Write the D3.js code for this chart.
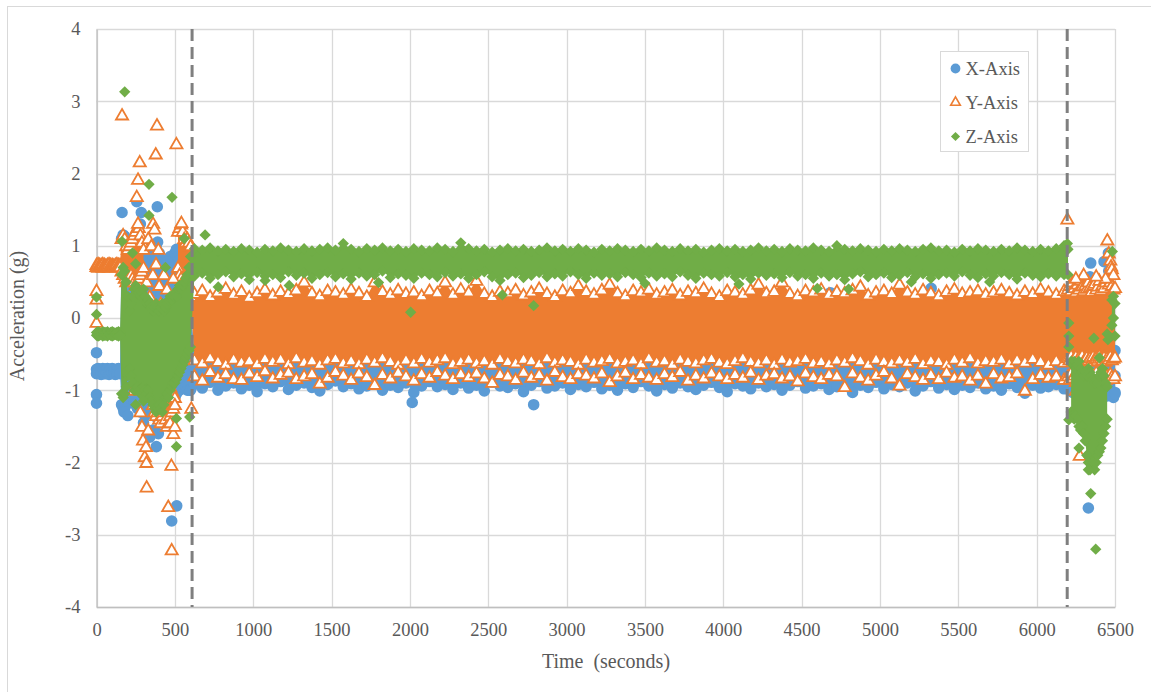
<!DOCTYPE html>
<html>
<head>
<meta charset="utf-8">
<script src="https://cdn.jsdelivr.net/npm/d3@7"></script>
<style>
  body { margin: 0; background: #fff; }
  svg { display: block; }
  text { font-family: "Liberation Serif", "Times New Roman", serif; fill: #595959; }
</style>
</head>
<body>
<svg id="chart" width="1151" height="692"></svg>
<script>
// ---- Axis ticks ----
const xTicks = [0, 500, 1000, 1500, 2000, 2500, 3000, 3500, 4000, 4500, 5000, 5500, 6000, 6500];
const yTicks = [-4, -3, -2, -1, 0, 1, 2, 3, 4];
const seriesNames = ["X-Axis", "Y-Axis", "Z-Axis"];
// Start / end of the steady recording phase (seconds)
const phaseMarks = [610, 6195];

// ---- Sample grids (seconds) ----
const leadTimes = d3.range(0, 610, 10);     // 0 .. 600
const bandTimes = d3.range(625, 6200, 50);  // 625 .. 6175
const tailTimes = d3.range(6200, 6510, 10); // 6200 .. 6500

// ---- X-Axis acceleration (g): upper / lower sample envelope ----
const xLeadHi = [-0.71,-0.70,-0.71,-0.72,-0.70,-0.71,-0.71,-0.70,-0.72,-0.71,-0.70,-0.71,-0.72,-0.71,-0.70,-0.71,
  1.1,1.15,1.1,1.0,0.95,0.7,0.6,0.7,0.9,1.0,1.2,1.1,1.3,1.0,0.9,0.85,0.9,0.8,0.9,1.0,0.85,0.9,1.0,1.05,0.9,
  0.7,0.8,0.75,0.6,0.7,0.8,0.85,0.7,0.8,0.9,0.95,0.85,0.8,0.7,0.6,0.5,0.45,0.4,0.3,0.2];
const xLeadLo = [-0.77,-0.76,-0.77,-0.78,-0.76,-0.77,-0.77,-0.76,-0.78,-0.77,-0.76,-0.77,-0.78,-0.77,-0.76,-0.77,
  -1.2,-1.25,-1.25,-1.2,-1.1,-0.9,-1.0,-1.1,-1.15,-1.2,-1.25,-1.2,-1.3,-1.25,-1.3,-1.35,-1.3,-1.25,-1.3,-1.2,
  -1.25,-1.3,-1.35,-1.4,-1.3,-1.25,-1.2,-1.25,-1.2,-1.3,-1.25,-1.2,-1.15,-1.1,-1.1,-1.05,-1.0,-1.0,-0.95,-0.95,
  -0.9,-0.95,-1.0,-1.0,-1.0];
const xBandHi = [-0.48,-0.45,-0.5,-0.46,-0.44,-0.49,-0.47,-0.45,-0.5,-0.46,
  -0.43,-0.47,-0.49,-0.45,-0.48,-0.44,-0.46,-0.5,-0.47,-0.45,
  -0.49,-0.46,-0.44,-0.48,-0.45,-0.5,-0.47,-0.43,-0.46,-0.49,
  -0.45,-0.48,-0.46,-0.44,-0.5,-0.47,-0.45,-0.49,-0.46,-0.43,
  -0.47,-0.5,-0.45,-0.48,-0.44,-0.46,-0.49,-0.47,-0.45,-0.5,
  -0.46,-0.44,-0.48,-0.45,-0.49,-0.47,-0.43,-0.46,-0.5,-0.48,
  -0.45,-0.47,-0.44,-0.49,-0.46,-0.48,-0.5,-0.45,-0.47,-0.44,
  -0.48,-0.46,-0.5,-0.45,-0.47,-0.43,-0.49,-0.46,-0.48,-0.45,
  -0.47,-0.49,-0.44,-0.46,-0.5,-0.48,-0.45,-0.47,-0.43,-0.49,
  -0.46,-0.48,-0.45,-0.5,-0.47,-0.44,-0.49,-0.46,-0.48,-0.45,
  -0.47,-0.43,-0.49,-0.46,-0.48,-0.45,-0.5,-0.47,-0.44,-0.46,
  -0.48,-0.45];
const xBandLo = [-0.92,-0.97,-0.89,-1.0,-0.94,-0.9,-0.98,-0.93,-1.02,-0.91,
  -0.95,-0.88,-0.99,-0.93,-0.9,-0.96,-1.01,-0.92,-0.87,-0.95,
  -0.91,-0.98,-0.94,-0.89,-1.0,-0.93,-0.96,-0.9,-1.03,-0.94,
  -0.88,-0.95,-0.92,-0.99,-0.9,-0.97,-0.93,-1.01,-0.89,-0.94,
  -0.96,-0.91,-1.02,-0.93,-0.88,-0.97,-0.94,-0.9,-0.99,-0.92,
  -0.95,-0.89,-0.98,-0.93,-1.0,-0.91,-0.96,-0.88,-0.94,-1.01,
  -0.92,-0.97,-0.9,-0.95,-0.99,-0.93,-0.89,-0.96,-1.02,-0.91,
  -0.94,-0.98,-0.9,-0.95,-0.92,-1.0,-0.93,-0.88,-0.97,-0.94,
  -0.91,-0.99,-0.95,-0.9,-1.03,-0.93,-0.96,-0.89,-0.98,-0.92,
  -0.95,-0.9,-1.01,-0.94,-0.88,-0.97,-0.92,-0.99,-0.93,-0.96,
  -0.9,-0.98,-0.94,-1.0,-0.91,-0.96,-1.04,-0.93,-0.97,-0.95,
  -0.92,-0.98];
const xTailHi = [-0.45,-0.48,-0.44,-0.47,-0.45,-0.5,-0.46,-0.44,-0.48,-0.45,-0.47,-0.43,-0.46,-0.49,-0.45,-0.44,
  -0.47,-0.45,-0.48,-0.46,-0.44,-0.47,-0.45,-0.43,-0.46,-0.48,-0.44,-0.45,-0.47,-0.46,-0.45];
const xTailLo = [-0.95,-1.0,-0.97,-1.03,-0.98,-1.05,-1.0,-0.96,-1.02,-1.06,-0.99,-1.04,-1.0,-0.97,-1.05,-1.02,
  -0.98,-1.03,-1.07,-1.0,-0.96,-1.04,-1.01,-0.98,-1.05,-1.08,-1.02,-0.99,-1.06,-1.1,-1.03];
const xScatter = [[0,-0.48],[0,-1.06],[0,-1.18],[163,1.46],[180,1.13],[257,1.61],[286,1.46],[388,1.54],
  [175,-1.3],[200,-1.35],[300,-1.45],[340,-1.65],[360,-1.55],[382,-1.78],[395,-1.6],[420,-1.45],[450,-1.4],
  [480,-2.81],[512,-2.6],[565,0.35],[2015,-1.17],[2790,-1.2],[4684,0.35],[5327,0.41],
  [6330,-2.63],[6345,0.76],[6430,0.78],[6458,0.9],[6340,0.57],[6320,0.55],[6460,0.65],[6490,-0.54],
  [6500,-0.8],[6500,-1.05]];

// ---- Y-Axis acceleration (g) ----
const yLeadHi = [0.74,0.75,0.74,0.74,0.75,0.74,0.73,0.74,0.75,0.74,0.74,0.73,0.74,0.75,0.74,0.74,
  1.1,1.15,1.1,1.0,0.95,1.0,1.05,1.1,1.15,1.2,1.25,1.25,1.15,1.05,0.95,
  null,null,null,null,null,
  -0.9,-0.85,-0.9,-0.95,-0.9,-0.85,-0.9,-0.95,-1.0,-0.95,-0.9,-0.95,-1.0,-1.05,-1.1,
  null,
  1.2,1.25,1.3,1.2,1.1,1.05,1.1,1.05,1.0];
const yLeadLo = [0.71,0.70,0.71,0.71,0.70,0.71,0.72,0.71,0.70,0.71,0.71,0.72,0.71,0.70,0.71,0.71,
  0.65,0.6,0.55,0.5,0.55,0.6,0.6,0.55,0.5,0.45,0.5,0.55,0.6,0.65,0.7,
  null,null,null,null,null,
  -1.2,-1.3,-1.35,-1.3,-1.4,-1.45,-1.35,-1.3,-1.4,-1.5,-1.45,-1.35,-1.3,-1.25,-1.2,
  null,
  0.7,0.6,0.55,0.5,0.5,0.55,0.5,0.4,0.3];
const yBandHi = [0.34,0.38,0.3,0.36,0.41,0.33,0.37,0.29,0.35,0.4,
  0.32,0.37,0.34,0.39,0.5,0.35,0.31,0.38,0.36,0.33,
  0.4,0.35,0.3,0.5,0.37,0.33,0.39,0.34,0.36,0.31,
  0.38,0.35,0.5,0.33,0.4,0.36,0.52,0.34,0.3,0.37,
  0.35,0.39,0.32,0.36,0.41,0.34,0.3,0.38,0.35,0.45,
  0.37,0.33,0.39,0.47,0.35,0.31,0.38,0.36,0.4,0.33,
  0.36,0.39,0.32,0.37,0.35,0.41,0.34,0.3,0.38,0.36,
  0.33,0.39,0.47,0.35,0.37,0.5,0.34,0.31,0.38,0.36,
  0.4,0.33,0.37,0.35,0.39,0.44,0.32,0.36,0.38,0.34,
  0.47,0.36,0.33,0.39,0.35,0.31,0.37,0.4,0.34,0.36,
  0.38,0.33,0.36,0.39,0.35,0.32,0.37,0.34,0.4,0.36,
  0.33,0.38];
const yBandLo = [-0.58,-0.62,-0.55,-0.6,-0.64,-0.57,-0.61,-0.59,-0.63,-0.56,
  -0.6,-0.57,-0.63,-0.55,-0.61,-0.59,-0.64,-0.58,-0.56,-0.62,
  -0.59,-0.63,-0.57,-0.61,-0.55,-0.6,-0.64,-0.58,-0.62,-0.56,
  -0.61,-0.58,-0.55,-0.63,-0.6,-0.57,-0.62,-0.59,-0.64,-0.56,
  -0.6,-0.62,-0.57,-0.59,-0.63,-0.55,-0.61,-0.58,-0.6,-0.64,
  -0.57,-0.61,-0.59,-0.56,-0.62,-0.6,-0.58,-0.63,-0.55,-0.61,
  -0.59,-0.64,-0.57,-0.6,-0.62,-0.58,-0.56,-0.61,-0.63,-0.59,
  -0.55,-0.6,-0.62,-0.58,-0.64,-0.57,-0.61,-0.59,-0.56,-0.62,
  -0.6,-0.63,-0.58,-0.61,-0.55,-0.59,-0.64,-0.57,-0.6,-0.62,
  -0.58,-0.61,-0.56,-0.63,-0.59,-0.6,-0.64,-0.57,-0.61,-0.55,
  -0.62,-0.59,-0.6,-0.57,-0.63,-0.58,-0.61,-0.56,-0.6,-0.64,
  -0.59,-0.61];
// lowest Y samples along the steady band (open triangles over the X band)
const yBandEdge = [-0.8,-0.86,-0.74,-0.82,-0.77,-0.84,-0.85,-0.76,-0.81,-0.73,
  -0.83,-0.78,-0.75,-0.84,-0.8,-0.77,-0.9,-0.82,-0.74,-0.79,
  -0.85,-0.76,-0.81,-0.92,-0.78,-0.83,-0.75,-0.8,-0.86,-0.77,
  -0.82,-0.74,-0.79,-0.84,-0.77,-0.81,-0.76,-0.83,-0.89,-0.78,
  -0.8,-0.85,-0.75,-0.82,-0.78,-0.86,-0.74,-0.81,-0.84,-0.77,
  -0.79,-0.83,-0.76,-0.88,-0.8,-0.75,-0.84,-0.78,-0.82,-0.85,
  -0.77,-0.81,-0.74,-0.86,-0.79,-0.83,-0.76,-0.8,-0.84,-0.78,
  -0.82,-0.75,-0.85,-0.79,-0.77,-0.83,-0.8,-0.87,-0.76,-0.81,
  -0.84,-0.78,-0.8,-0.95,-0.76,-0.82,-0.86,-0.79,-0.74,-0.83,
  -0.93,-0.77,-0.81,-0.85,-0.78,-0.84,-0.75,-0.82,-0.8,-0.86,
  -0.79,-0.9,-0.77,-0.83,-0.81,-0.76,-1.0,-0.84,-0.78,-0.82,
  -0.8,-0.85];
const yTailHi = [0.4,0.45,0.38,0.5,0.42,0.36,0.47,0.4,0.52,0.44,0.38,0.46,0.41,0.5,0.43,0.37,
  0.45,0.48,0.4,0.44,0.52,0.39,0.46,0.42,0.5,0.55,0.47,0.5,0.45,0.4,0.42];
const yTailLo = [-0.55,-0.58,-0.52,-0.6,-0.56,-0.53,-0.59,-0.55,-0.57,-0.52,-0.6,-0.56,-0.54,-0.58,-0.55,-0.6,
  -0.53,-0.57,-0.55,-0.59,-0.52,-0.56,-0.58,-0.54,-0.6,-0.55,-0.57,-0.53,-0.58,-0.56,-0.54];
const yTailEdge = [-0.8,-0.85,-0.76,-0.83,-0.79,-0.88,-0.74,-0.82,-0.86,-0.78,-0.84,-0.8,-0.9,-0.77,-0.83,-0.79,
  -0.86,-0.81,-0.75,-0.84,-0.8,-0.87,-0.78,-0.82,-0.85,-0.79,-0.83,-0.77,-0.81,-0.84,-0.8];
const yScatter = [[0,0.38],[0,0.26],[0,-0.06],
  [163,2.81],[386,2.67],[510,2.41],[276,2.16],[378,2.27],[265,1.92],[257,1.68],[265,1.31],[361,1.31],
  [370,1.23],[542,1.32],[330,1.1],[350,1.0],[395,0.95],
  [320,0.5],[340,0.3],[360,0.6],[380,0.75],[400,0.45],[410,0.2],[430,0.6],[450,0.4],[300,0.2],
  [420,-0.5],[440,-0.3],[350,-0.6],[470,0.1],[490,0.55],[250,-0.9],[230,-0.6],[210,-0.4],[240,-1.0],
  [280,-1.3],[290,-1.5],[297,-1.69],[308,-1.92],[316,-1.78],[318,-2.0],[320,-2.34],[330,-1.55],
  [458,-2.61],[470,-1.45],[478,-2.04],[480,-3.21],[490,-1.6],[500,-1.5],[605,-1.25],
  [6196,1.37],[6451,1.08],[6460,0.9],[6470,0.8],[6475,0.72],[6480,0.68],[6490,0.6],[6440,0.55],
  [6300,0.6],[6250,0.55],[6380,0.58],[6275,-1.9],[6250,-1.0],[6320,-0.95],[6400,-1.0],[6430,-0.9]];

// ---- Z-Axis acceleration (g) ----
const zLeadHi = [-0.2,-0.19,-0.2,-0.21,-0.19,-0.2,-0.2,-0.19,-0.21,-0.2,-0.19,-0.2,-0.21,-0.2,-0.19,-0.2,
  0.6,0.7,0.65,0.5,0.3,0.1,0.2,0.3,0.4,0.45,0.4,0.35,0.3,0.35,0.4,0.3,0.2,0.25,0.2,0.15,
  0.1,0.15,0.2,0.15,0.1,0.15,0.2,0.1,0.15,0.2,0.25,0.3,0.25,0.3,0.35,0.3,0.4,0.45,0.4,0.45,
  0.5,0.55,0.6,0.7,0.85];
const zLeadLo = [-0.24,-0.25,-0.24,-0.23,-0.25,-0.24,-0.24,-0.25,-0.23,-0.24,-0.25,-0.24,-0.23,-0.24,-0.25,-0.24,
  -1.05,-1.1,-1.05,-0.95,-0.8,-0.7,-0.8,-0.9,-1.0,-1.0,-0.95,-1.0,-1.05,-1.0,-0.95,
  -1.0,-1.05,-1.0,-1.1,-1.15,-1.2,-1.25,-1.3,-1.25,-1.2,-1.25,-1.3,-1.2,-1.1,-1.05,
  -1.1,-1.0,-0.95,-0.9,-0.9,-0.85,-0.8,-0.75,-0.7,-0.65,-0.6,-0.55,-0.5,-0.45,-0.4];
const zBandHi = [0.96,0.94,0.97,0.93,0.95,0.92,0.96,0.94,0.91,0.95,
  0.93,0.97,0.94,0.92,0.96,0.93,0.95,0.97,0.94,1.03,
  0.95,0.92,0.96,0.94,0.97,0.93,0.95,0.92,0.96,0.94,
  0.93,0.97,0.95,0.92,1.04,0.96,0.93,0.95,0.91,0.94,
  0.96,0.93,0.95,0.92,0.94,0.97,0.93,0.95,0.92,0.96,
  0.94,0.91,0.95,0.93,0.96,0.94,0.92,0.95,0.93,0.97,
  0.94,0.92,0.96,0.93,0.95,0.91,0.94,0.96,0.93,0.95,
  0.92,0.94,0.97,0.93,0.95,0.92,0.96,0.94,0.93,0.97,
  0.94,0.92,1.0,0.95,0.93,0.96,0.94,0.92,0.95,0.93,
  0.96,0.94,0.92,0.95,0.97,0.93,0.94,0.91,0.95,0.93,
  0.96,0.94,0.92,0.95,0.93,0.97,0.94,0.92,0.95,0.93,
  0.96,1.0];
const zBandLo = [0.58,0.62,0.55,0.6,0.64,0.57,0.61,0.53,0.63,0.58,
  0.6,0.56,0.64,0.59,0.62,0.55,0.6,0.63,0.57,0.61,
  0.54,0.62,0.58,0.6,0.65,0.56,0.61,0.59,0.55,0.62,
  0.6,0.57,0.63,0.58,0.61,0.55,0.6,0.64,0.57,0.52,
  0.6,0.62,0.56,0.59,0.63,0.57,0.61,0.58,0.64,0.6,
  0.55,0.62,0.59,0.61,0.57,0.63,0.6,0.56,0.62,0.58,
  0.61,0.57,0.64,0.59,0.55,0.62,0.6,0.58,0.63,0.57,
  0.6,0.54,0.62,0.59,0.61,0.56,0.63,0.58,0.6,0.55,
  0.62,0.58,0.6,0.53,0.61,0.64,0.57,0.6,0.62,0.56,
  0.59,0.63,0.57,0.61,0.55,0.6,0.62,0.58,0.64,0.59,
  0.56,0.61,0.58,0.63,0.6,0.54,0.62,0.59,0.57,0.61,
  0.58,0.6];
const zTailHi = [0.95,null,-0.6,-0.65,-0.6,-0.7,-0.65,-0.6,-0.7,-0.75,-0.8,-0.75,-0.8,-0.7,-0.75,-0.8,
  -0.85,-0.9,-0.85,-0.9,-0.8,-0.75,-0.7,-0.8,-0.9,-0.95,null,null,0.25,0.3,0.2];
const zTailLo = [0.6,null,-1.3,-1.35,-1.4,-1.35,-1.4,-1.5,-1.55,-1.5,-1.6,-1.7,-1.9,-2.0,-2.1,-2.05,
  -2.0,-2.1,-2.0,-1.9,-1.85,-1.8,-1.7,-1.6,-1.5,-1.4,null,null,-0.1,0.0,-0.25];
const zScatter = [[0,0.29],[0,0.05],[163,1.06],[180,3.13],[230,0.9],[250,0.75],[335,1.85],[335,1.42],
  [440,0.7],[482,1.67],[560,1.1],[510,-1.39],[510,-1.78],[595,-1.37],[250,-1.2],[300,-1.15],
  [693,1.15],[777,0.43],[1076,0.52],[1230,0.45],[1800,0.49],[2005,0.08],[2590,0.32],[2790,0.17],
  [3500,0.48],[4100,0.47],[4600,0.41],[4800,0.4],[5200,0.5],[5700,0.5],
  [6196,1.03],[6205,-0.07],[6205,-0.25],[6205,-0.4],[6205,-1.41],[6270,-1.8],[6330,-2.1],[6345,-2.43],
  [6365,-0.28],[6377,-3.2],[6400,-0.55],[6450,-0.22],[6455,-0.3],[6483,0.92]];

// ---- Chart ----
const W = 1151, H = 692;
const svg = d3.select("#chart");
const x = d3.scaleLinear().domain([0, 6500]).range([96.5, 1115]);
const y = d3.scaleLinear().domain([-4, 4]).range([607, 29]);

const colors = { X: "#5B9BD5", Y: "#ED7D31", Z: "#70AD47" };

// outer chart frame
svg.append("rect").attr("x", 7.5).attr("y", 6.5).attr("width", W + 20).attr("height", H + 20)
  .attr("fill", "#fff").attr("stroke", "#D9D9D9").attr("stroke-width", 1);

// gridlines
const grid = svg.append("g");
grid.selectAll("line.v").data(xTicks).join("line")
  .attr("x1", d => Math.round(x(d)) + 0.5).attr("x2", d => Math.round(x(d)) + 0.5)
  .attr("y1", y(4)).attr("y2", y(-4))
  .attr("stroke", "#D9D9D9").attr("stroke-width", 1.3);
grid.selectAll("line.h").data(yTicks).join("line")
  .attr("x1", x(0)).attr("x2", x(6500))
  .attr("y1", d => Math.round(y(d)) + 0.5).attr("y2", d => Math.round(y(d)) + 0.5)
  .attr("stroke", "#D9D9D9").attr("stroke-width", 1.3);

// axis lines + tick labels
const xAxis = svg.append("g").attr("transform", `translate(0,${y(-4)})`)
  .call(d3.axisBottom(x).tickValues(xTicks).tickSize(0).tickPadding(16).tickFormat(d3.format("d")));
const yAxis = svg.append("g").attr("transform", `translate(${x(0)},0)`)
  .call(d3.axisLeft(y).tickValues(yTicks).tickSize(0).tickPadding(16).tickFormat(d => d < 0 ? "-" + Math.abs(d) : d));
[xAxis, yAxis].forEach(g => {
  g.select(".domain").attr("stroke", "#BFBFBF").attr("stroke-width", 1.3);
  g.selectAll("text").attr("font-family", '"Liberation Serif", "Times New Roman", serif')
    .attr("font-size", 18.5).attr("fill", "#595959");
});

// axis titles
svg.append("text").attr("x", 606).attr("y", 668).attr("text-anchor", "middle")
  .attr("font-size", 20).attr("xml:space", "preserve").text("Time  (seconds)");
svg.append("text").attr("transform", "translate(24,316) rotate(-90)").attr("text-anchor", "middle")
  .attr("font-size", 20).text("Acceleration (g)");

// build envelope rows and sample points per series
function rows(times, hi, lo) { return times.map((t, i) => ({ t, hi: hi[i], lo: lo[i] })); }
function points(rs, extra) {
  const out = [];
  rs.forEach(r => {
    if (r.hi != null) out.push([r.t, r.hi]);
    if (r.lo != null) out.push([r.t, r.lo]);
  });
  return out.concat(extra);
}
function edge(times, vals) { return times.map((t, i) => [t, vals[i]]); }

const xRows = rows(leadTimes, xLeadHi, xLeadLo).concat(rows(bandTimes, xBandHi, xBandLo), rows(tailTimes, xTailHi, xTailLo));
const yRows = rows(leadTimes, yLeadHi, yLeadLo).concat(rows(bandTimes, yBandHi, yBandLo), rows(tailTimes, yTailHi, yTailLo));
const zRows = rows(leadTimes, zLeadHi, zLeadLo).concat(rows(bandTimes, zBandHi, zBandLo), rows(tailTimes, zTailHi, zTailLo));

const band = d3.area()
  .defined(d => d.hi != null && d.lo != null)
  .x(d => x(d.t)).y0(d => y(d.lo)).y1(d => y(d.hi));

const plot = svg.append("g");
const circle = d3.symbol(d3.symbolCircle, 105)();
const tri = d3.symbol(d3.symbolTriangle, 64)();
const dia = d3.symbol(d3.symbolSquare, 64)();

function drawSeries(rs, pts, color, kind) {
  const g = plot.append("g");
  g.append("path").datum(rs).attr("d", band).attr("fill", color);
  const sel = g.selectAll("path.m").data(pts).join("path").attr("class", "m");
  if (kind === "circle") {
    sel.attr("d", circle).attr("fill", color)
      .attr("transform", d => `translate(${x(d[0])},${y(d[1])})`);
  } else if (kind === "triangle") {
    sel.attr("d", tri).attr("fill", "#fff").attr("stroke", color).attr("stroke-width", 1.8)
      .attr("transform", d => `translate(${x(d[0])},${y(d[1]) + 1})`);
  } else {
    sel.attr("d", dia).attr("fill", color)
      .attr("transform", d => `translate(${x(d[0])},${y(d[1])}) rotate(45)`);
  }
}

drawSeries(xRows, points(xRows, xScatter), colors.X, "circle");
drawSeries(yRows, points(yRows, yScatter.concat(edge(bandTimes, yBandEdge), edge(tailTimes, yTailEdge))), colors.Y, "triangle");
drawSeries(zRows, points(zRows, zScatter), colors.Z, "diamond");

// phase boundary markers
svg.selectAll("line.phase").data(phaseMarks).join("line")
  .attr("x1", d => x(d)).attr("x2", d => x(d))
  .attr("y1", y(4)).attr("y2", y(-4))
  .attr("stroke", "#7F7F7F").attr("stroke-width", 3).attr("stroke-dasharray", "12,6");

// legend
const lg = svg.append("g").attr("transform", "translate(940.5,51.5)");
lg.append("rect").attr("width", 88).attr("height", 100).attr("fill", "#fff").attr("stroke", "#D9D9D9");
const kinds = ["circle", "triangle", "diamond"];
const cols = [colors.X, colors.Y, colors.Z];
seriesNames.forEach((name, i) => {
  const cy = 17 + i * 34;
  const m = lg.append("path").attr("transform", `translate(15,${cy})` + (kinds[i] === "diamond" ? " rotate(45)" : ""));
  if (kinds[i] === "circle") m.attr("d", d3.symbol(d3.symbolCircle, 75)()).attr("fill", cols[i]);
  else if (kinds[i] === "triangle") m.attr("d", d3.symbol(d3.symbolTriangle, 40)()).attr("fill", "#fff").attr("stroke", cols[i]).attr("stroke-width", 1.6);
  else m.attr("d", d3.symbol(d3.symbolSquare, 42)()).attr("fill", cols[i]);
  lg.append("text").attr("x", 25).attr("y", cy + 6.5).attr("font-size", 18.5).text(name);
});
</script>
</body>
</html>
